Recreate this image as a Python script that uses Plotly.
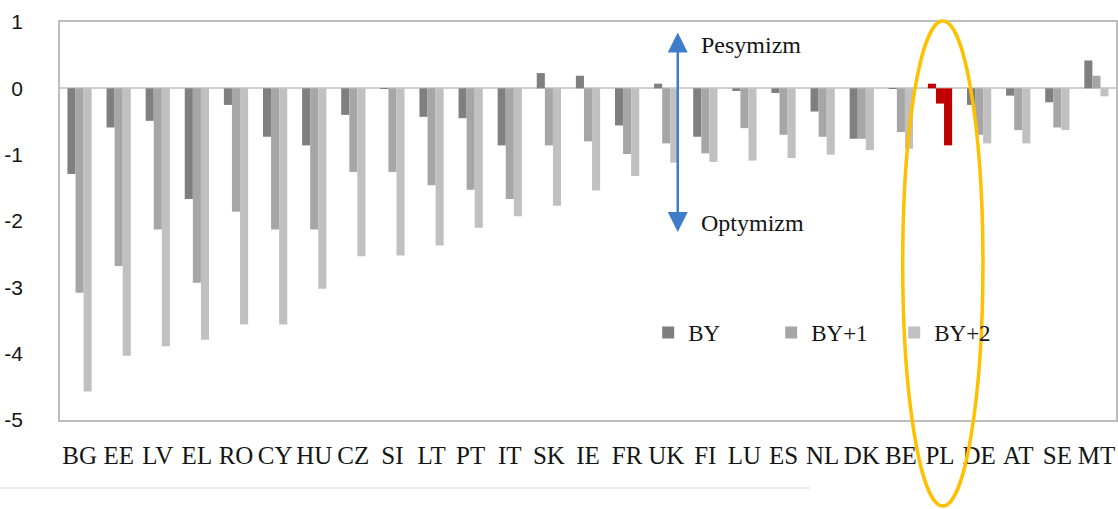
import plotly.graph_objects as go

categories = ["BG", "EE", "LV", "EL", "RO", "CY", "HU", "CZ", "SI", "LT", "PT", "IT", "SK", "IE",
              "FR", "UK", "FI", "LU", "ES", "NL", "DK", "BE", "PL", "DE", "AT", "SE", "MT"]
by = [-1.29, -0.59, -0.49, -1.67, -0.25, -0.73, -0.86, -0.40, -0.01, -0.43, -0.45, -0.86, 0.23, 0.19,
      -0.56, 0.07, -0.73, -0.04, -0.07, -0.35, -0.76, -0.01, 0.07, -0.25, -0.11, -0.21, 0.42]
by1 = [-3.08, -2.68, -2.13, -2.93, -1.86, -2.13, -2.13, -1.26, -1.26, -1.46, -1.53, -1.67, -0.86, -0.80,
       -0.99, -0.83, -0.98, -0.60, -0.70, -0.73, -0.76, -0.66, -0.23, -0.70, -0.63, -0.59, 0.19]
by2 = [-4.57, -4.03, -3.89, -3.79, -3.56, -3.56, -3.02, -2.53, -2.52, -2.37, -2.10, -1.93, -1.77, -1.54,
       -1.32, -1.12, -1.11, -1.09, -1.05, -1.00, -0.93, -0.91, -0.86, -0.83, -0.83, -0.63, -0.12]
series_names = ["BY", "BY+1", "BY+2"]
series_colors = ["#7f7f7f", "#a6a6a6", "#c0c0c0"]
highlight = "PL"
highlight_color = "#c00000"
y_ticks = [1, 0, -1, -2, -3, -4, -5]

SERIF = "Liberation Serif, Times New Roman, serif"
SANS = "Liberation Sans, Arial, sans-serif"
TXT = "#151515"

fig = go.Figure()
for name, vals, col in zip(series_names, [by, by1, by2], series_colors):
    colors = [highlight_color if c == highlight else col for c in categories]
    fig.add_trace(go.Bar(x=categories, y=vals, name=name, marker=dict(color=colors, line=dict(width=0))))

fig.update_layout(
    width=1118, height=509,
    margin=dict(l=60, r=2, t=22, b=89, autoexpand=False),
    paper_bgcolor="white", plot_bgcolor="white",
    barmode="group", bargap=0.38, bargroupgap=0,
    font=dict(family=SERIF, color=TXT),
    legend=dict(orientation="h", x=0.557, y=0.22, xanchor="left", yanchor="middle",
                font=dict(family=SERIF, size=23, color=TXT),
                entrywidth=78, entrywidthmode="pixels", bgcolor="rgba(0,0,0,0)",
                traceorder="normal", itemsizing="constant"),
    showlegend=True,
)
fig.update_xaxes(showline=True, mirror=True, linecolor="#bdbdbd", linewidth=1.5, automargin=False,
                 ticks="", tickfont=dict(family=SERIF, size=25, color=TXT),
                 ticklabelstandoff=12, showgrid=False)
fig.update_yaxes(range=[-5, 1], tickvals=y_ticks, ticktext=[str(v) for v in y_ticks],
                 showline=True, mirror=True, linecolor="#bdbdbd", linewidth=1.5, automargin=False,
                 showgrid=False, zeroline=True, zerolinecolor="#d0d0d0", zerolinewidth=1.5,
                 ticks="", tickfont=dict(family=SANS, size=21, color=TXT),
                 ticklabelstandoff=31)

# double-headed blue arrow
fig.add_annotation(xref="x domain", yref="y", x=0.585, y=0.84, axref="x domain", ayref="y",
                   ax=0.585, ay=-2.19, showarrow=True, arrowside="end+start", arrowhead=2,
                   arrowsize=1.6, arrowwidth=2.5, arrowcolor="#3f7cc9", text="")
fig.add_annotation(xref="paper", yref="y", x=0.605, y=0.66, xanchor="left", yanchor="middle",
                   text="Pesymizm", showarrow=False, font=dict(family=SERIF, size=24, color=TXT))
fig.add_annotation(xref="paper", yref="y", x=0.605, y=-2.03, xanchor="left", yanchor="middle",
                   text="Optymizm", showarrow=False, font=dict(family=SERIF, size=24, color=TXT))

# orange ellipse around PL
fig.add_shape(type="circle", xref="paper", yref="paper", x0=0.798, x1=0.874, y0=-0.216, y1=1.0025,
              line=dict(color="#ffc000", width=3.5), fillcolor="rgba(0,0,0,0)")
# faint line below the chart
fig.add_shape(type="line", xref="paper", yref="paper", x0=-0.057, x1=0.71, y0=-0.171, y1=-0.171,
              line=dict(color="#e3e3e3", width=1.5))

fig.write_html("out.html", config={"displayModeBar": False},
               post_script="document.body.style.margin='0';")
